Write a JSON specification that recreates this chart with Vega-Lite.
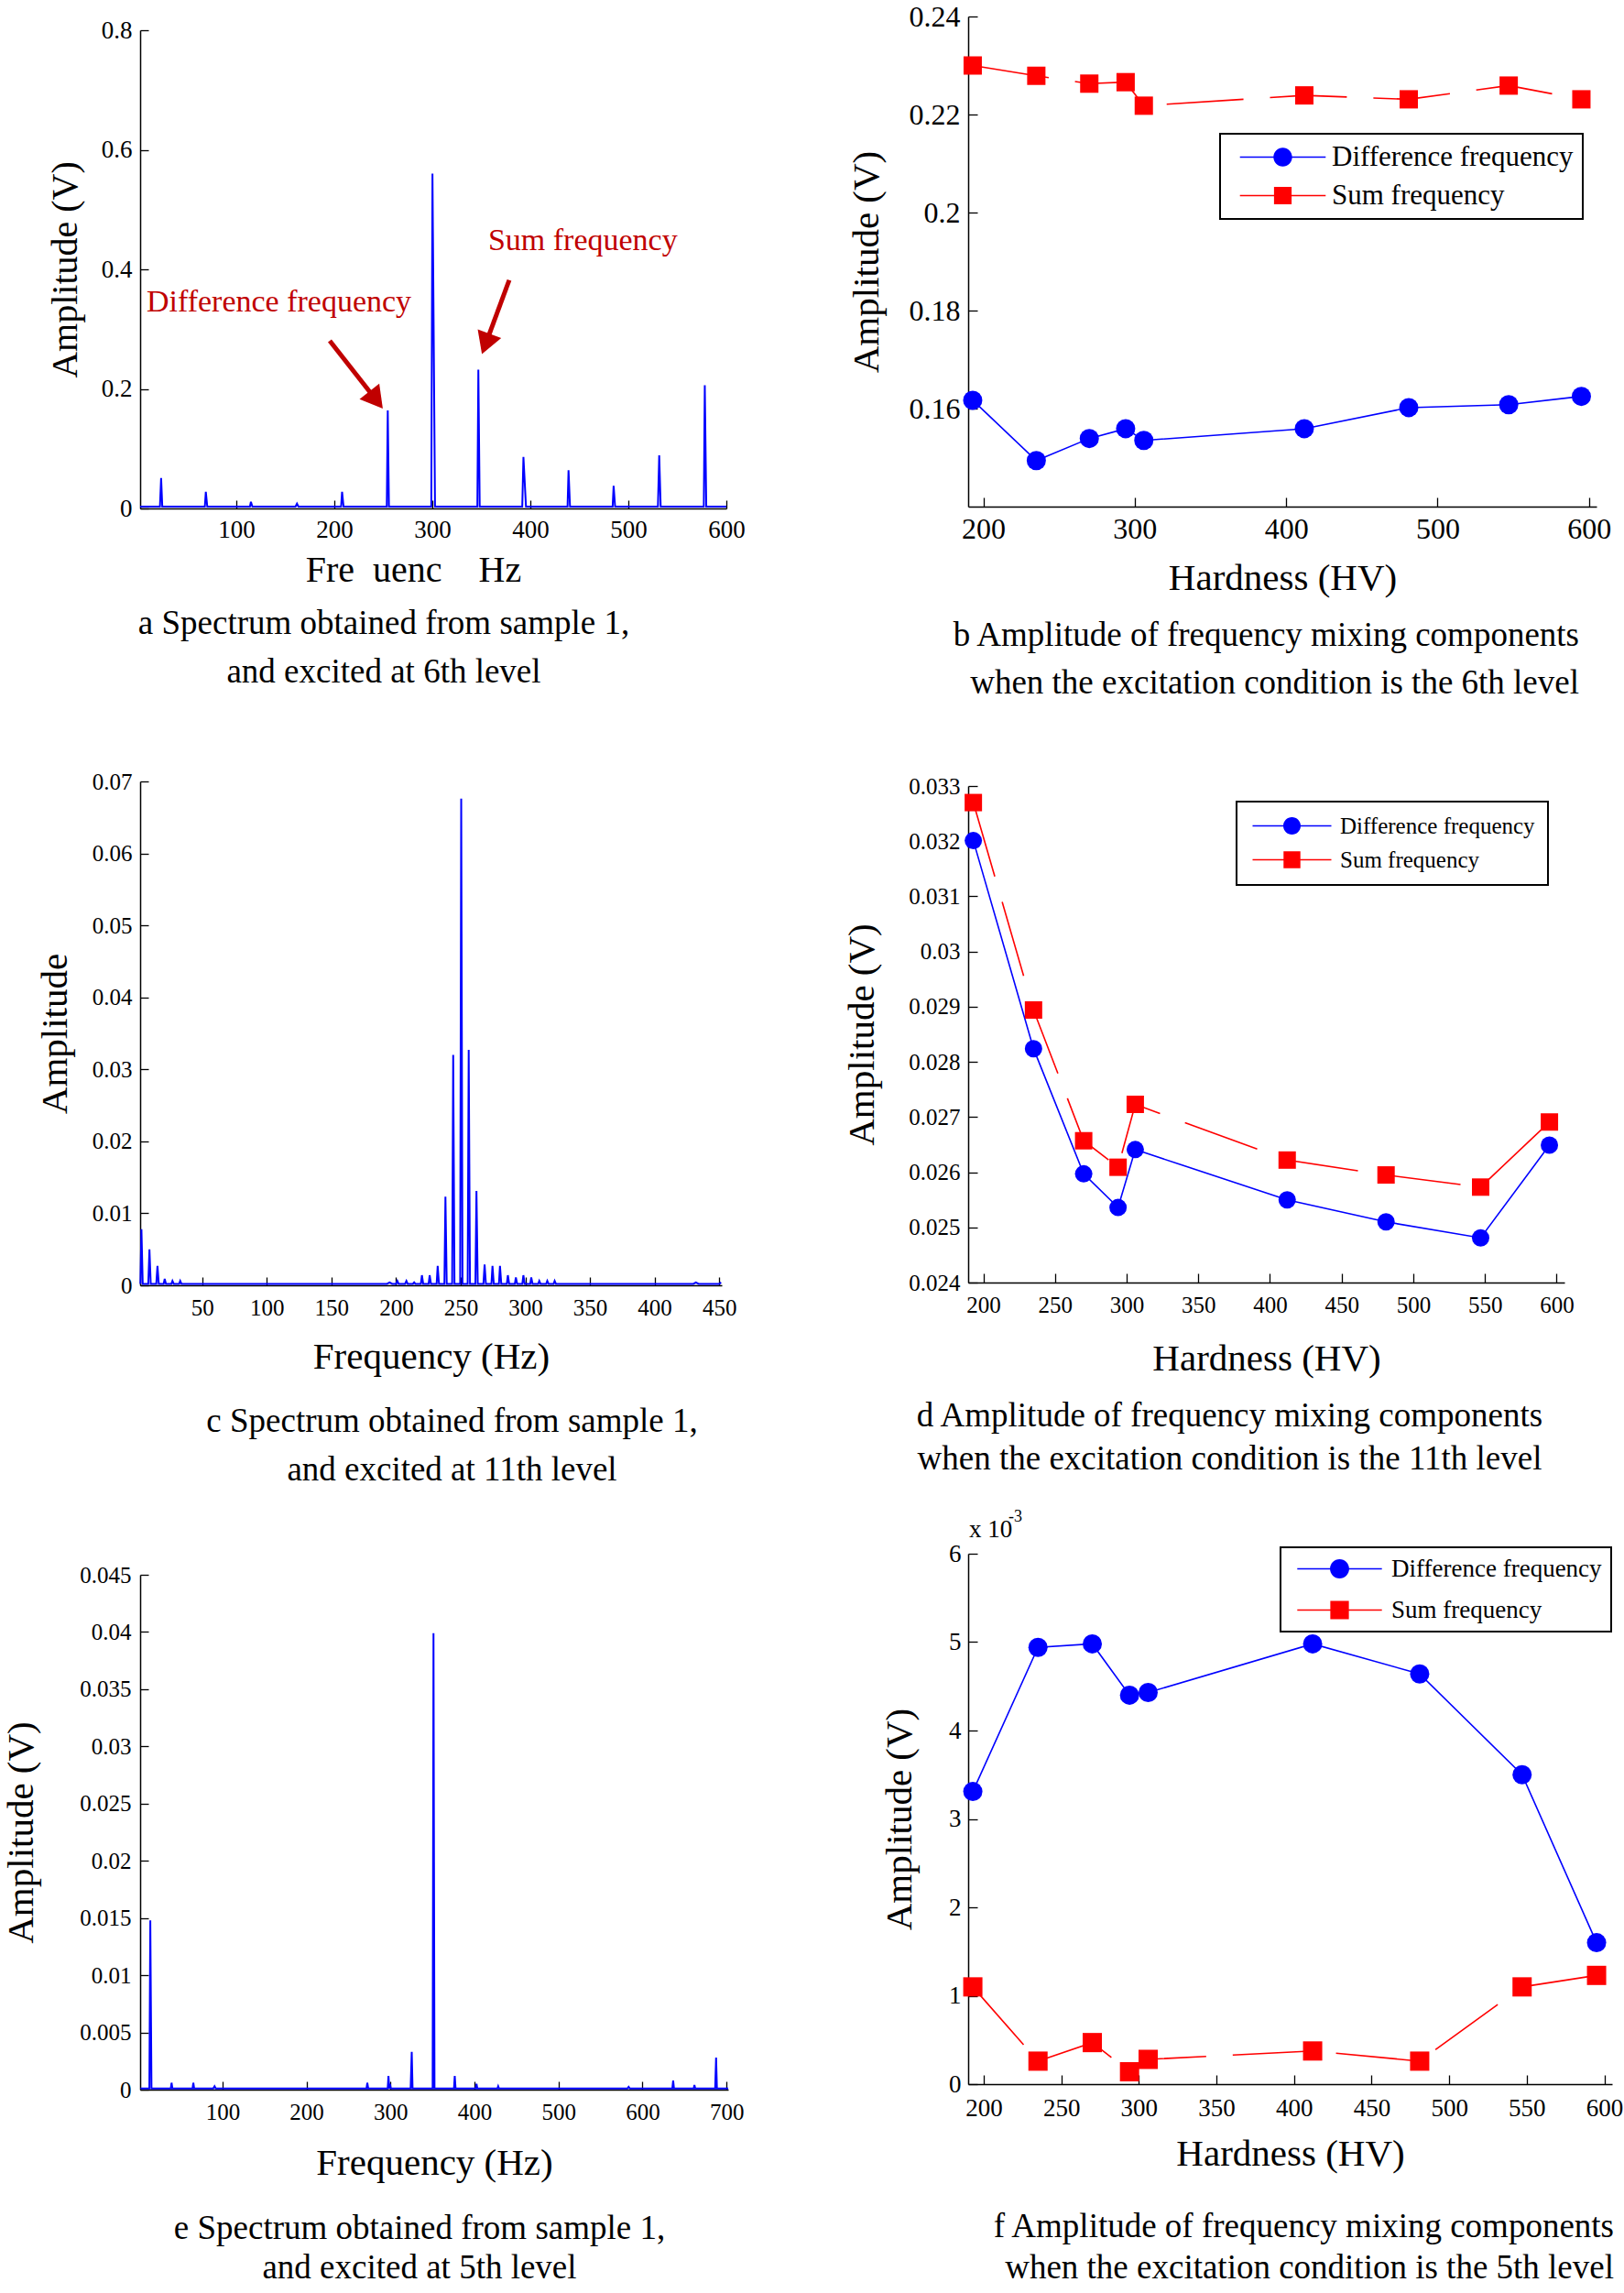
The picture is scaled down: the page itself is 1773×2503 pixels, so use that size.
{
  "$schema": "https://vega.github.io/schema/vega-lite/v6.json",
  "padding": {"left": 2, "top": 2, "right": 0, "bottom": 2},
  "background": "white",
  "datasets": {
    "specA": [
      {"f":2,"v":0.003},{"f":22.2,"v":0.003},{"f":23.4,"v":0.051},{"f":24.6,"v":0.003},
      {"f":68,"v":0.003},{"f":69,"v":0.028},{"f":70.5,"v":0.003},
      {"f":114,"v":0.003},{"f":115,"v":0.011},{"f":116.5,"v":0.003},
      {"f":160.5,"v":0.003},{"f":162,"v":0.008},{"f":163.5,"v":0.003},
      {"f":207,"v":0.003},{"f":208,"v":0.028},{"f":209.5,"v":0.003},
      {"f":253.6,"v":0.003},{"f":254.6,"v":0.164},{"f":255.8,"v":0.003},
      {"f":299,"v":0.003},{"f":300.2,"v":0.56},{"f":302.8,"v":0.003},
      {"f":346,"v":0.003},{"f":347,"v":0.232},{"f":348.4,"v":0.003},
      {"f":391.8,"v":0.003},{"f":393,"v":0.086},{"f":395.6,"v":0.003},
      {"f":438,"v":0.003},{"f":439,"v":0.064},{"f":440.5,"v":0.003},
      {"f":484,"v":0.003},{"f":485,"v":0.038},{"f":486.5,"v":0.003},
      {"f":530.2,"v":0.003},{"f":531.5,"v":0.089},{"f":533,"v":0.003},
      {"f":577,"v":0.003},{"f":578,"v":0.206},{"f":579.5,"v":0.003},
      {"f":600,"v":0.003}
    ],
    "annA": [
      {"t":"Difference frequency","f":8.5,"v":0.345},
      {"t":"Sum frequency","f":357,"v":0.448}
    ],
    "arrA": [
      {"f":195.4,"v":0.2805,"f2":242.7,"v2":0.1815,"ang":141.9},
      {"f":378.5,"v":0.382,"f2":354.5,"v2":0.2753,"ang":200.3}
    ],
    "specC": [
      {"f":2.2,"v":0.0002},{"f":3,"v":0.0078},{"f":4,"v":0.0002},
      {"f":8.3,"v":0.0002},{"f":9.2,"v":0.005},{"f":10.2,"v":0.0002},
      {"f":14.5,"v":0.0002},{"f":15.4,"v":0.0027},{"f":16.4,"v":0.0002},
      {"f":20.2,"v":0.0002},{"f":21,"v":0.0009},{"f":22,"v":0.0002},
      {"f":26.2,"v":0.0002},{"f":27,"v":0.0006},{"f":28,"v":0.0002},
      {"f":32.2,"v":0.0002},{"f":33,"v":0.0006},{"f":34,"v":0.0002},
      {"f":193,"v":0.0002},{"f":195,"v":0.0004},{"f":197,"v":0.0002},
      {"f":200,"v":0.0002},{"f":201,"v":0.0006},{"f":202,"v":0.0002},
      {"f":207,"v":0.0002},{"f":208,"v":0.0006},{"f":209,"v":0.0002},
      {"f":213,"v":0.0002},{"f":214,"v":0.0004},{"f":215,"v":0.0002},
      {"f":219.2,"v":0.0002},{"f":220,"v":0.0014},{"f":221,"v":0.0002},
      {"f":225.2,"v":0.0002},{"f":226,"v":0.0014},{"f":227,"v":0.0002},
      {"f":231.4,"v":0.0002},{"f":232.2,"v":0.0027},{"f":233.2,"v":0.0002},
      {"f":237.4,"v":0.0002},{"f":238.2,"v":0.0123},{"f":239.2,"v":0.0002},
      {"f":243.4,"v":0.0002},{"f":244.2,"v":0.032},{"f":245.2,"v":0.0002},
      {"f":249.6,"v":0.0002},{"f":250.4,"v":0.0676},{"f":251.4,"v":0.0002},
      {"f":255.4,"v":0.0002},{"f":256.2,"v":0.0327},{"f":257.2,"v":0.0002},
      {"f":261.4,"v":0.0002},{"f":262.2,"v":0.0131},{"f":263.2,"v":0.0002},
      {"f":267.6,"v":0.0002},{"f":268.5,"v":0.0029},{"f":269.5,"v":0.0002},
      {"f":273.8,"v":0.0002},{"f":274.6,"v":0.0027},{"f":275.6,"v":0.0002},
      {"f":279.6,"v":0.0002},{"f":280.4,"v":0.0027},{"f":281.4,"v":0.0002},
      {"f":285.7,"v":0.0002},{"f":286.5,"v":0.0014},{"f":287.5,"v":0.0002},
      {"f":291.9,"v":0.0002},{"f":292.7,"v":0.0011},{"f":293.7,"v":0.0002},
      {"f":297.7,"v":0.0002},{"f":298.5,"v":0.0014},{"f":299.5,"v":0.0002},
      {"f":303.8,"v":0.0002},{"f":304.6,"v":0.0011},{"f":305.6,"v":0.0002},
      {"f":310,"v":0.0002},{"f":310.8,"v":0.0006},{"f":311.8,"v":0.0002},
      {"f":316.2,"v":0.0002},{"f":317,"v":0.0006},{"f":318,"v":0.0002},
      {"f":321.9,"v":0.0002},{"f":322.7,"v":0.0006},{"f":323.7,"v":0.0002},
      {"f":430,"v":0.0002},{"f":432,"v":0.0004},{"f":434,"v":0.0002},
      {"f":450,"v":0.0002},{"f":451.5,"v":0.0004}
    ],
    "specE": [
      {"f":2.4,"v":0.0001},{"f":13,"v":0.0001},{"f":14.1,"v":0.0148},{"f":15.5,"v":0.0001},
      {"f":38.5,"v":0.0001},{"f":39.4,"v":0.0006},{"f":40.4,"v":0.0001},
      {"f":64.4,"v":0.0001},{"f":65.3,"v":0.0006},{"f":66.3,"v":0.0001},
      {"f":89,"v":0.0001},{"f":90.6,"v":0.0003},{"f":92,"v":0.0001},
      {"f":271.5,"v":0.0001},{"f":272.4,"v":0.0006},{"f":273.5,"v":0.0001},
      {"f":296.7,"v":0.0001},{"f":297.6,"v":0.0012},{"f":298.6,"v":0.0001},
      {"f":299.4,"v":0.0005},{"f":300.4,"v":0.0001},
      {"f":324,"v":0.0001},{"f":325.3,"v":0.0033},{"f":326.3,"v":0.0001},
      {"f":350.2,"v":0.0001},{"f":351.2,"v":0.0399},{"f":352.4,"v":0.0001},
      {"f":375.6,"v":0.0001},{"f":376.5,"v":0.0012},{"f":377.5,"v":0.0001},
      {"f":401.5,"v":0.0001},{"f":402.4,"v":0.0005},{"f":403.4,"v":0.0001},
      {"f":427.3,"v":0.0001},{"f":428.2,"v":0.0003},{"f":429.2,"v":0.0001},
      {"f":582,"v":0.0001},{"f":583.5,"v":0.00025},{"f":585,"v":0.0001},
      {"f":635.5,"v":0.0001},{"f":636.5,"v":0.0008},{"f":637.5,"v":0.0001},
      {"f":661,"v":0.0001},{"f":661.8,"v":0.0004},{"f":662.8,"v":0.0001},
      {"f":686.5,"v":0.0001},{"f":687.6,"v":0.0028},{"f":688.6,"v":0.0001},
      {"f":702,"v":0.0001}
    ],
    "hardB": [
      {"h":193,"s":"Difference frequency","v":0.1617},{"h":235,"s":"Difference frequency","v":0.1494},
      {"h":270,"s":"Difference frequency","v":0.1539},{"h":294,"s":"Difference frequency","v":0.1559},
      {"h":306,"s":"Difference frequency","v":0.1535},{"h":412,"s":"Difference frequency","v":0.1559},
      {"h":481,"s":"Difference frequency","v":0.1602},{"h":547,"s":"Difference frequency","v":0.1608},
      {"h":595,"s":"Difference frequency","v":0.1625},
      {"h":193,"s":"Sum frequency","v":0.2300},{"h":235,"s":"Sum frequency","v":0.2279},
      {"h":270,"s":"Sum frequency","v":0.2263},{"h":294,"s":"Sum frequency","v":0.2266},
      {"h":306,"s":"Sum frequency","v":0.2218},{"h":412,"s":"Sum frequency","v":0.2239},
      {"h":481,"s":"Sum frequency","v":0.2231},{"h":547,"s":"Sum frequency","v":0.2259},
      {"h":595,"s":"Sum frequency","v":0.2231}
    ],
    "hardD": [
      {"h":193,"s":"Difference frequency","v":0.03201},{"h":235,"s":"Difference frequency","v":0.02824},
      {"h":270,"s":"Difference frequency","v":0.02597},{"h":294,"s":"Difference frequency","v":0.02536},
      {"h":306,"s":"Difference frequency","v":0.02641},{"h":412,"s":"Difference frequency","v":0.0255},
      {"h":481,"s":"Difference frequency","v":0.0251},{"h":547,"s":"Difference frequency","v":0.02481},
      {"h":595,"s":"Difference frequency","v":0.02649},
      {"h":193,"s":"Sum frequency","v":0.0327},{"h":235,"s":"Sum frequency","v":0.02894},
      {"h":270,"s":"Sum frequency","v":0.02657},{"h":294,"s":"Sum frequency","v":0.02609},
      {"h":306,"s":"Sum frequency","v":0.02723},{"h":412,"s":"Sum frequency","v":0.02622},
      {"h":481,"s":"Sum frequency","v":0.02595},{"h":547,"s":"Sum frequency","v":0.02573},
      {"h":595,"s":"Sum frequency","v":0.02691}
    ],
    "hardF": [
      {"h":193,"s":"Difference frequency","v":0.00331},{"h":235,"s":"Difference frequency","v":0.00494},
      {"h":270,"s":"Difference frequency","v":0.00498},{"h":294,"s":"Difference frequency","v":0.0044},
      {"h":306,"s":"Difference frequency","v":0.00443},{"h":412,"s":"Difference frequency","v":0.00498},
      {"h":481,"s":"Difference frequency","v":0.00464},{"h":547,"s":"Difference frequency","v":0.0035},
      {"h":595,"s":"Difference frequency","v":0.0016},
      {"h":193,"s":"Sum frequency","v":0.0011},{"h":235,"s":"Sum frequency","v":0.00026},
      {"h":270,"s":"Sum frequency","v":0.00047},{"h":294,"s":"Sum frequency","v":0.00014},
      {"h":306,"s":"Sum frequency","v":0.00028},{"h":412,"s":"Sum frequency","v":0.000375},
      {"h":481,"s":"Sum frequency","v":0.00026},{"h":547,"s":"Sum frequency","v":0.0011},
      {"h":595,"s":"Sum frequency","v":0.00123}
    ],
    "expF": [
      {"t":"x 10","h":190.6,"v":0.006186,"fs":27},
      {"t":"-3","h":216,"v":0.00636,"fs":18}
    ],
    "empty": []
  },
  "resolve": {"scale": {"color": "independent", "shape": "independent"}, "legend": {"color": "independent", "shape": "independent"}},
  "hconcat": [
    {
      "spacing": 89,
      "vconcat": [
        {
          "spacing": 0,
          "vconcat": [
            {
              "width": 640, "height": 1,
              "data": {"name": "empty"},
              "mark": "point"
            },
            {
              "width": 640, "height": 522,
              "title": {"text": ["a Spectrum obtained from sample 1,", "and excited at 6th level"], "orient": "bottom", "anchor": "middle", "dx": -54, "offset": 21, "fontSize": 37, "lineHeight": 53},
              "layer": [
                {
                  "data": {"name": "specA"},
                  "mark": {"type": "line", "color": "#0000ff", "strokeWidth": 2},
                  "encoding": {
                    "x": {"field": "f", "type": "quantitative", "scale": {"domain": [2, 600], "nice": false, "zero": false},
                          "axis": {"title": "Fre\u00a0\u00a0uenc\u00a0\u00a0\u00a0\u00a0Hz", "titleX": 298, "values": [100,200,300,400,500,600], "format": "d", "labelFontSize": 27, "titleFontSize": 40, "tickSize": -9, "labelPadding": 19, "titlePadding": 11}},
                    "y": {"field": "v", "type": "quantitative", "scale": {"domain": [0, 0.8], "nice": false},
                          "axis": {"title": "Amplitude (V)", "values": [0,0.2,0.4,0.6,0.8], "format": ".1~f", "labelFontSize": 27, "titleFontSize": 40, "tickSize": -9, "labelPadding": 18, "titlePadding": 19}}
                  }
                },
                {
                  "data": {"name": "annA"},
                  "mark": {"type": "text", "align": "left", "baseline": "middle", "fontSize": 34, "color": "#c00000", "font": "Liberation Serif"},
                  "encoding": {
                    "x": {"field": "f", "type": "quantitative"},
                    "y": {"field": "v", "type": "quantitative"},
                    "text": {"field": "t"}
                  }
                },
                {
                  "data": {"name": "arrA"},
                  "mark": {"type": "rule", "color": "#c00000", "strokeWidth": 5},
                  "encoding": {
                    "x": {"field": "f", "type": "quantitative"},
                    "y": {"field": "v", "type": "quantitative"},
                    "x2": {"field": "f2"},
                    "y2": {"field": "v2"}
                  }
                },
                {
                  "data": {"name": "arrA"},
                  "mark": {"type": "point", "shape": "triangle-up", "filled": true, "color": "#c00000", "opacity": 1, "size": 750},
                  "encoding": {
                    "x": {"field": "f2", "type": "quantitative"},
                    "y": {"field": "v2", "type": "quantitative"},
                    "angle": {"field": "ang", "type": "quantitative", "scale": null}
                  }
                }
              ]
            }
          ]
        },
        {
          "spacing": 84,
          "vconcat": [
            {
              "width": 635, "height": 550,
              "data": {"name": "specC"},
              "title": {"text": ["c Spectrum obtained from sample 1,", "and excited at 11th level"], "orient": "bottom", "anchor": "middle", "dx": 23, "offset": 33, "fontSize": 37, "lineHeight": 53},
              "mark": {"type": "line", "color": "#0000ff", "strokeWidth": 2},
              "encoding": {
                "x": {"field": "f", "type": "quantitative", "scale": {"domain": [2, 452], "nice": false, "zero": false},
                      "axis": {"title": "Frequency (Hz)", "values": [50,100,150,200,250,300,350,400,450], "format": "d", "labelFontSize": 25, "titleFontSize": 41, "tickSize": -9, "labelPadding": 21, "titlePadding": 21}},
                "y": {"field": "v", "type": "quantitative", "scale": {"domain": [0, 0.07], "nice": false},
                      "axis": {"title": "Amplitude", "values": [0,0.01,0.02,0.03,0.04,0.05,0.06,0.07], "format": ".2~f", "labelFontSize": 25, "titleFontSize": 41, "tickSize": -9, "labelPadding": 18, "titlePadding": 19}}
              }
            },
            {
              "width": 642, "height": 562,
              "data": {"name": "specE"},
              "title": {"text": ["e Spectrum obtained from sample 1,", "and excited at 5th level"], "orient": "bottom", "anchor": "middle", "dx": -16, "offset": 34, "fontSize": 37, "lineHeight": 43},
              "mark": {"type": "line", "color": "#0000ff", "strokeWidth": 2},
              "encoding": {
                "x": {"field": "f", "type": "quantitative", "scale": {"domain": [2, 702], "nice": false, "zero": false},
                      "axis": {"title": "Frequency (Hz)", "values": [100,200,300,400,500,600,700], "format": "d", "labelFontSize": 25, "titleFontSize": 41, "tickSize": -9, "labelPadding": 21, "titlePadding": 23}},
                "y": {"field": "v", "type": "quantitative", "scale": {"domain": [0, 0.045], "nice": false},
                      "axis": {"title": "Amplitude (V)", "values": [0,0.005,0.01,0.015,0.02,0.025,0.03,0.035,0.04,0.045], "format": ".3~f", "labelFontSize": 25, "titleFontSize": 41, "tickSize": -9, "labelPadding": 19, "titlePadding": 42}}
              }
            }
          ]
        }
      ]
    },
    {
      "spacing": 36,
      "resolve": {"scale": {"color": "independent", "shape": "independent"}, "legend": {"color": "independent", "shape": "independent"}},
      "vconcat": [
        {
          "spacing": 82,
          "resolve": {"scale": {"color": "independent", "shape": "independent"}, "legend": {"color": "independent", "shape": "independent"}},
          "vconcat": [
            {
              "width": 686, "height": 535,
              "data": {"name": "hardB"},
              "title": {"text": ["b Amplitude of frequency mixing components", "when the excitation condition is the 6th level"], "orient": "bottom", "anchor": "end", "align": "right", "frame": "group", "dx": -19, "offset": 25, "fontSize": 37, "lineHeight": 52},
              "layer": [
                {
                  "transform": [{"filter": "datum.s == 'Difference frequency'"}],
                  "mark": {"type": "line", "strokeWidth": 1.6, "color": "#0000ff"},
                  "encoding": {
                    "x": {"field": "h", "type": "quantitative", "scale": {"domain": [190, 605], "nice": false, "zero": false},
                          "axis": {"title": "Hardness (HV)", "values": [200,300,400,500,600], "format": "d", "labelFontSize": 32, "titleFontSize": 41, "tickSize": -10, "labelPadding": 19, "titlePadding": 18}},
                    "y": {"field": "v", "type": "quantitative", "scale": {"domain": [0.14, 0.24], "nice": false, "zero": false},
                          "axis": {"title": "Amplitude (V)", "values": [0.16,0.18,0.2,0.22,0.24], "format": ".2~f", "labelFontSize": 32, "titleFontSize": 41, "tickSize": -10, "labelPadding": 19, "titlePadding": 25}}
                  }
                },
                {
                  "transform": [{"filter": "datum.s == 'Sum frequency'"}],
                  "mark": {"type": "line", "strokeWidth": 1.6, "color": "#ff0000", "strokeDash": [84, 29]},
                  "encoding": {"x": {"field": "h", "type": "quantitative"}, "y": {"field": "v", "type": "quantitative"}}
                },
                {
                  "transform": [{"filter": "datum.s == 'Difference frequency'"}],
                  "mark": {"type": "point", "filled": true, "opacity": 1, "size": 441, "shape": "circle", "color": "#0000ff"},
                  "encoding": {"x": {"field": "h", "type": "quantitative"}, "y": {"field": "v", "type": "quantitative"}}
                },
                {
                  "transform": [{"filter": "datum.s == 'Sum frequency'"}],
                  "mark": {"type": "point", "filled": true, "opacity": 1, "size": 400, "shape": "square", "color": "#ff0000"},
                  "encoding": {"x": {"field": "h", "type": "quantitative"}, "y": {"field": "v", "type": "quantitative"}}
                },
                {
                  "mark": {"type": "point", "filled": true, "opacity": 0},
                  "encoding": {
                    "x": {"field": "h", "type": "quantitative"},
                    "y": {"field": "v", "type": "quantitative"},
                    "color": {"field": "s", "type": "nominal", "scale": {"domain": ["Difference frequency", "Sum frequency"], "range": ["#0000ff", "#ff0000"]},
                              "legend": {"orient": "none", "legendX": 275, "legendY": 128, "title": null, "labelFontSize": 31, "labelFont": "Liberation Serif", "labelColor": "#000", "strokeColor": "#000", "fillColor": "white", "padding": 10, "symbolSize": 576, "symbolOffset": 43, "labelOffset": 38, "rowPadding": 10, "symbolOpacity": 1, "labelLimit": 0}},
                    "shape": {"field": "s", "type": "nominal", "scale": {"domain": ["Difference frequency", "Sum frequency"], "range": ["M-3.9,-0.07L3.9,-0.07L3.9,0.07L-3.9,0.07Z M-0.85,0A0.85,0.85,0,1,1,0.85,0A0.85,0.85,0,1,1,-0.85,0Z", "M-3.9,-0.07L3.9,-0.07L3.9,0.07L-3.9,0.07Z M-0.8,-0.8L0.8,-0.8L0.8,0.8L-0.8,0.8Z"]},
                              "legend": {"orient": "none", "legendX": 275, "legendY": 128, "title": null, "labelFontSize": 31, "labelFont": "Liberation Serif", "labelColor": "#000", "strokeColor": "#000", "fillColor": "white", "padding": 10, "symbolSize": 576, "symbolOffset": 43, "labelOffset": 38, "rowPadding": 10, "symbolOpacity": 1, "labelLimit": 0}}
                  }
                }
              ]
            },
            {
              "width": 651, "height": 542,
              "data": {"name": "hardD"},
              "title": {"text": ["d Amplitude of frequency mixing components", "when the excitation condition is the 11th level"], "orient": "bottom", "anchor": "middle", "frame": "group", "dx": -40, "offset": 25, "fontSize": 37, "lineHeight": 47},
              "layer": [
                {
                  "transform": [{"filter": "datum.s == 'Difference frequency'"}],
                  "mark": {"type": "line", "strokeWidth": 1.6, "color": "#0000ff"},
                  "encoding": {
                    "x": {"field": "h", "type": "quantitative", "scale": {"domain": [189.4, 605.5], "nice": false, "zero": false},
                          "axis": {"title": "Hardness (HV)", "values": [200,250,300,350,400,450,500,550,600], "format": "d", "labelFontSize": 25, "titleFontSize": 41, "tickSize": -10, "labelPadding": 22, "titlePadding": 26}},
                    "y": {"field": "v", "type": "quantitative", "scale": {"domain": [0.024, 0.033], "nice": false, "zero": false},
                          "axis": {"title": "Amplitude (V)", "values": [0.024,0.025,0.026,0.027,0.028,0.029,0.03,0.031,0.032,0.033], "format": ".3~f", "labelFontSize": 25, "titleFontSize": 41, "tickSize": -10, "labelPadding": 19, "titlePadding": 29}}
                  }
                },
                {
                  "transform": [{"filter": "datum.s == 'Sum frequency'"}],
                  "mark": {"type": "line", "strokeWidth": 1.6, "color": "#ff0000", "strokeDash": [84, 29]},
                  "encoding": {"x": {"field": "h", "type": "quantitative"}, "y": {"field": "v", "type": "quantitative"}}
                },
                {
                  "transform": [{"filter": "datum.s == 'Difference frequency'"}],
                  "mark": {"type": "point", "filled": true, "opacity": 1, "size": 361, "shape": "circle", "color": "#0000ff"},
                  "encoding": {"x": {"field": "h", "type": "quantitative"}, "y": {"field": "v", "type": "quantitative"}}
                },
                {
                  "transform": [{"filter": "datum.s == 'Sum frequency'"}],
                  "mark": {"type": "point", "filled": true, "opacity": 1, "size": 361, "shape": "square", "color": "#ff0000"},
                  "encoding": {"x": {"field": "h", "type": "quantitative"}, "y": {"field": "v", "type": "quantitative"}}
                },
                {
                  "mark": {"type": "point", "filled": true, "opacity": 0},
                  "encoding": {
                    "x": {"field": "h", "type": "quantitative"},
                    "y": {"field": "v", "type": "quantitative"},
                    "color": {"field": "s", "type": "nominal", "scale": {"domain": ["Difference frequency", "Sum frequency"], "range": ["#0000ff", "#ff0000"]},
                              "legend": {"orient": "none", "legendX": 293, "legendY": 17, "title": null, "labelFontSize": 25, "labelFont": "Liberation Serif", "labelColor": "#000", "strokeColor": "#000", "fillColor": "white", "padding": 14, "symbolSize": 400, "symbolOffset": 34, "labelOffset": 40, "rowPadding": 11, "symbolOpacity": 1, "labelLimit": 0}},
                    "shape": {"field": "s", "type": "nominal", "scale": {"domain": ["Difference frequency", "Sum frequency"], "range": ["M-4.3,-0.08L4.3,-0.08L4.3,0.08L-4.3,0.08Z M-0.95,0A0.95,0.95,0,1,1,0.95,0A0.95,0.95,0,1,1,-0.95,0Z", "M-4.3,-0.08L4.3,-0.08L4.3,0.08L-4.3,0.08Z M-0.92,-0.92L0.92,-0.92L0.92,0.92L-0.92,0.92Z"]},
                              "legend": {"orient": "none", "legendX": 293, "legendY": 17, "title": null, "labelFontSize": 25, "labelFont": "Liberation Serif", "labelColor": "#000", "strokeColor": "#000", "fillColor": "white", "padding": 14, "symbolSize": 400, "symbolOffset": 34, "labelOffset": 40, "rowPadding": 11, "symbolOpacity": 1, "labelLimit": 0}}
                  }
                }
              ]
            }
          ]
        },
        {
          "width": 703, "height": 579,
          "data": {"name": "hardF"},
          "title": {"text": ["f Amplitude of frequency mixing components", "when the excitation condition is the 5th level"], "orient": "bottom", "anchor": "end", "align": "right", "frame": "group", "dx": 2, "offset": 42, "fontSize": 37, "lineHeight": 45},
          "layer": [
            {
              "transform": [{"filter": "datum.s == 'Difference frequency'"}],
              "mark": {"type": "line", "strokeWidth": 1.6, "color": "#0000ff"},
              "encoding": {
                "x": {"field": "h", "type": "quantitative", "scale": {"domain": [190, 605], "nice": false, "zero": false},
                      "axis": {"title": "Hardness (HV)", "values": [200,250,300,350,400,450,500,550,600], "format": "d", "labelFontSize": 27, "titleFontSize": 41, "tickSize": -10, "labelPadding": 23, "titlePadding": 17}},
                "y": {"field": "v", "type": "quantitative", "scale": {"domain": [0, 0.006], "nice": false},
                      "axis": {"title": "Amplitude (V)", "values": [0,0.001,0.002,0.003,0.004,0.005,0.006], "labelExpr": "format(datum.value*1000, '.0f')", "labelFontSize": 27, "titleFontSize": 41, "tickSize": -10, "labelPadding": 18, "titlePadding": 32}}
              }
            },
            {
              "transform": [{"filter": "datum.s == 'Sum frequency'"}],
              "mark": {"type": "line", "strokeWidth": 1.6, "color": "#ff0000", "strokeDash": [84, 29]},
              "encoding": {"x": {"field": "h", "type": "quantitative"}, "y": {"field": "v", "type": "quantitative"}}
            },
            {
              "transform": [{"filter": "datum.s == 'Difference frequency'"}],
              "mark": {"type": "point", "filled": true, "opacity": 1, "size": 441, "shape": "circle", "color": "#0000ff"},
              "encoding": {"x": {"field": "h", "type": "quantitative"}, "y": {"field": "v", "type": "quantitative"}}
            },
            {
              "transform": [{"filter": "datum.s == 'Sum frequency'"}],
              "mark": {"type": "point", "filled": true, "opacity": 1, "size": 441, "shape": "square", "color": "#ff0000"},
              "encoding": {"x": {"field": "h", "type": "quantitative"}, "y": {"field": "v", "type": "quantitative"}}
            },
            {
              "mark": {"type": "point", "filled": true, "opacity": 0},
              "encoding": {
                "x": {"field": "h", "type": "quantitative"},
                "y": {"field": "v", "type": "quantitative"},
                "color": {"field": "s", "type": "nominal", "scale": {"domain": ["Difference frequency", "Sum frequency"], "range": ["#0000ff", "#ff0000"]},
                          "legend": {"orient": "none", "legendX": 341, "legendY": -7, "title": null, "labelFontSize": 27, "labelFont": "Liberation Serif", "labelColor": "#000", "strokeColor": "#000", "fillColor": "white", "padding": 10, "symbolSize": 484, "symbolOffset": 41, "labelOffset": 43, "rowPadding": 17, "symbolOpacity": 1, "labelLimit": 0}},
                "shape": {"field": "s", "type": "nominal", "scale": {"domain": ["Difference frequency", "Sum frequency"], "range": ["M-4.2,-0.075L4.2,-0.075L4.2,0.075L-4.2,0.075Z M-0.95,0A0.95,0.95,0,1,1,0.95,0A0.95,0.95,0,1,1,-0.95,0Z", "M-4.2,-0.075L4.2,-0.075L4.2,0.075L-4.2,0.075Z M-0.92,-0.92L0.92,-0.92L0.92,0.92L-0.92,0.92Z"]},
                          "legend": {"orient": "none", "legendX": 341, "legendY": -7, "title": null, "labelFontSize": 27, "labelFont": "Liberation Serif", "labelColor": "#000", "strokeColor": "#000", "fillColor": "white", "padding": 10, "symbolSize": 484, "symbolOffset": 41, "labelOffset": 43, "rowPadding": 17, "symbolOpacity": 1, "labelLimit": 0}}
              }
            },
            {
              "data": {"name": "expF"},
              "mark": {"type": "text", "align": "left", "baseline": "alphabetic", "color": "#000", "font": "Liberation Serif"},
              "encoding": {
                "x": {"field": "h", "type": "quantitative"},
                "y": {"field": "v", "type": "quantitative"},
                "text": {"field": "t"},
                "size": {"field": "fs", "type": "quantitative", "scale": null}
              }
            }
          ]
        }
      ]
    }
  ],
  "spacing": 106,
  "config": {
    "font": "Liberation Serif",
    "view": {"stroke": null},
    "axis": {"grid": false, "domainColor": "#000", "domainWidth": 1.5, "tickColor": "#000", "tickWidth": 1.3, "labelColor": "#000", "titleColor": "#000", "titleFontWeight": "normal", "labelFont": "Liberation Serif", "titleFont": "Liberation Serif", "labelOverlap": false, "labelFlush": false},
    "legend": {"strokeWidth": 2},
    "title": {"font": "Liberation Serif", "fontWeight": "normal", "color": "#000"}
  }
}
